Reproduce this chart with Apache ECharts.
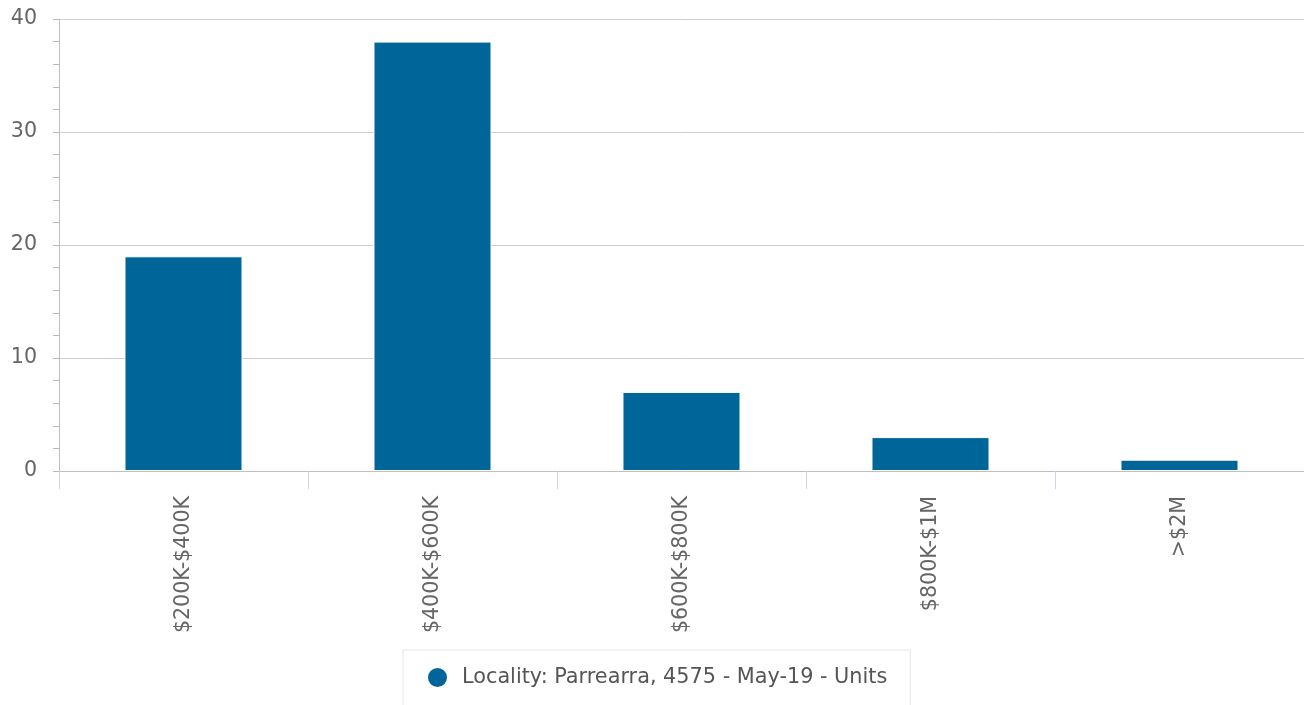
<html>
    <head>
        <meta charset="utf-8">
        <script src="https://cdn.jsdelivr.net/npm/echarts@6/dist/echarts.min.js" type="text/javascript" charset="utf-8"></script>
        <style>
            html, body { margin: 0; padding: 0; background: #fff; }
            .chart { width: 1304px; height: 705px; }
        </style>
    </head>
    <body>
        <div id="main" class="chart"></div>
        <script>
            var categories = ['$200K-$400K', '$400K-$600K', '$600K-$800K', '$800K-$1M', '>$2M'];
            var units = [19, 38, 7, 3, 1];
            var yTicks = { min: 0, max: 40, interval: 10 };
            var seriesName = 'Locality: Parrearra, 4575 - May-19 - Units';
            var font = '"DejaVu Sans", Verdana, sans-serif';
            var fs = 20.6;

            var chart = echarts.init(document.getElementById('main'));

            chart.setOption({
                animation: false,
                textStyle: { fontFamily: font },
                grid: { left: 59, right: 0, top: 19, bottom: 234 },
                legend: {
                    data: [seriesName],
                    left: 403,
                    top: 650,
                    icon: 'circle',
                    itemWidth: 21,
                    itemHeight: 21,
                    padding: [16, 23, 24, 23],
                    borderColor: '#e6e6e6',
                    borderWidth: 1,
                    textStyle: { color: '#555', fontSize: 20.8, fontFamily: font, padding: [0, 0, 0, 9] }
                },
                xAxis: {
                    type: 'category',
                    data: categories,
                    axisLine: { lineStyle: { color: '#c0c0c0', width: 1 } },
                    axisTick: { show: true, length: 18, lineStyle: { color: '#ccd6eb' } },
                    axisLabel: { rotate: 90, margin: 25, color: '#666', fontSize: fs, fontFamily: font }
                },
                yAxis: {
                    type: 'value',
                    min: yTicks.min,
                    max: yTicks.max,
                    interval: yTicks.interval,
                    axisLine: { show: true, lineStyle: { color: '#c0c0c0' } },
                    axisTick: { show: true, length: 6, lineStyle: { color: '#b8b8b8' } },
                    minorTick: { show: true, splitNumber: 5, length: 6, lineStyle: { color: '#b8b8b8' } },
                    splitLine: { lineStyle: { color: '#cccccc' } },
                    axisLabel: { margin: 22, color: '#666', fontSize: fs, fontFamily: font, padding: [4, 0, 0, 0] }
                },
                series: [{
                    name: seriesName,
                    type: 'bar',
                    data: units,
                    barWidth: '47.4%',
                    itemStyle: { color: '#006699', borderColor: '#ffffff', borderWidth: 1 }
                }]
            });
        </script>
    </body>
</html>
